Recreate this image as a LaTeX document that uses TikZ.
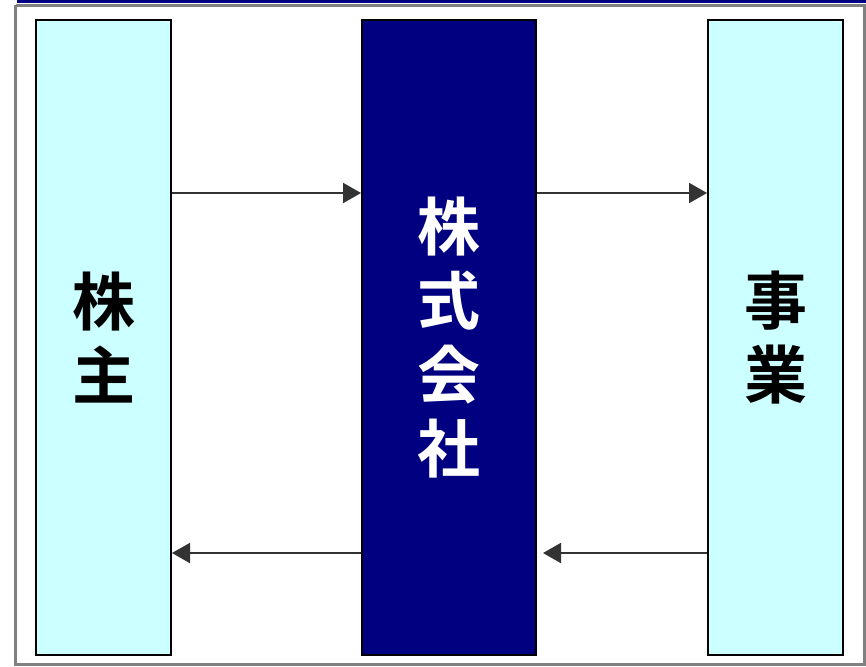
\documentclass[tikz,border=0pt]{standalone}
\usepackage{fontspec}
\newfontfamily\cjk{Noto Sans CJK JP Bold}
\usetikzlibrary{arrows.meta}
\definecolor{lightcyan}{HTML}{CCFFFF}
\definecolor{navyb}{HTML}{000080}
\definecolor{arrowgray}{HTML}{333333}
\definecolor{framegray}{HTML}{808080}
\begin{document}
\begin{tikzpicture}[x=1pt,y=-1pt,
  colbox/.style={draw=black,line width=2pt,inner sep=0pt,minimum width=135pt,minimum height=635pt,fill=lightcyan,
    font=\cjk\fontsize{63}{74}\selectfont,align=center},
  flow/.style={draw=arrowgray,line width=2pt,-{Triangle[length=18pt,width=20pt]}}]
\useasboundingbox (0,0) rectangle (866,666);
% frame
\fill[navyb] (17,0) rectangle (866,3.5);
\draw[framegray,line width=3.5pt] (15.5,5.5) -- (15.5,664.5) -- (866,664.5);
\draw[framegray,line width=3.5pt] (15.5,5.5) -- (866,5.5);
\draw[framegray,line width=3pt] (864.5,5.5) -- (864.5,664.5);
% boxes
\node[colbox] (kabunushi) at (103.5,337.5) {株\\主};
\node[colbox,fill=navyb,minimum width=174pt,text=white] (kaisha) at (449,337.5) {株\\式\\会\\社};
\node[colbox] (jigyo) at (775.5,337.5) {事\\業};
% arrows
\coordinate (a1) at (kabunushi.east |- 0,193);
\coordinate (a2) at (kaisha.west |- 0,193);
\coordinate (a3) at (kaisha.east |- 0,193);
\coordinate (a4) at (jigyo.west |- 0,193);
\coordinate (b1) at (kaisha.west |- 0,553);
\coordinate (b2) at (kabunushi.east |- 0,553);
\coordinate (b3) at (jigyo.west |- 0,553);
\coordinate (b4) at (543,553);
\draw[flow] (a1) -- (a2);
\draw[flow] (a3) -- (a4);
\draw[flow] (b1) -- (b2);
\draw[flow] (b3) -- (b4);
\end{tikzpicture}
\end{document}
